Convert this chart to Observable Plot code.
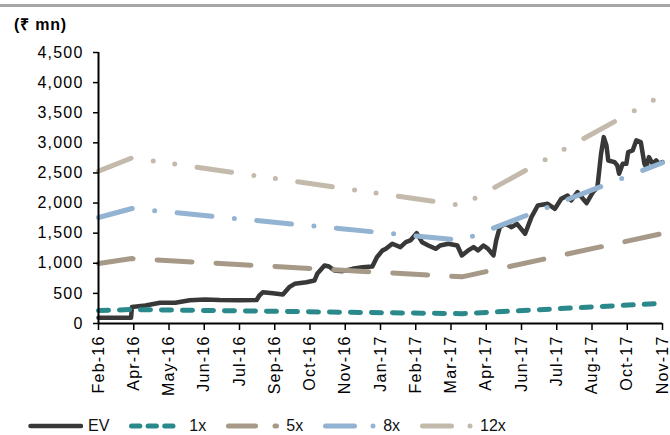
<!DOCTYPE html>
<html>
<head>
<meta charset="utf-8">
<script src="https://cdn.jsdelivr.net/npm/d3@7"></script>
<script src="https://cdn.jsdelivr.net/npm/@observablehq/plot@0.6"></script>
<style>
  body { margin: 0; background: #fff; font-family: "Liberation Sans", Arial, sans-serif; }
  #wrap { position: relative; width: 670px; height: 435px; overflow: hidden; background: #fff; }
  #rule { position: absolute; left: 0; top: 4px; width: 670px; height: 3px; background: #a6a6a6; }
  #unit { position: absolute; left: 14px; top: 16px; font-weight: bold; font-size: 16px; letter-spacing: 0.8px; color: #000; line-height: 18px; z-index: 2; }
  #chart { position: absolute; left: 0; top: 0; }
  #legend { position: absolute; left: 28px; top: 417px; height: 18px; display: flex; align-items: center; font-size: 16px; color: #111; }
  .item { display: flex; align-items: center; margin-right: 20px; }
  .item svg { margin-right: 5px; }
</style>
</head>
<body>
<div id="wrap">
  <div id="rule"></div>
  <div id="unit">(₹ mn)</div>
  <div id="chart"></div>
  <div id="legend"></div>
</div>
<script>
// ---- Data ----
const evDates = [
  "2016-02-24","2016-03-31","2016-04-01","2016-04-16","2016-05-02","2016-05-19","2016-06-04","2016-06-21",
  "2016-07-07","2016-07-29","2016-08-17","2016-08-20","2016-08-24","2016-09-04","2016-09-15","2016-09-22",
  "2016-09-28","2016-10-11","2016-10-20","2016-10-23","2016-10-31","2016-11-05","2016-11-11","2016-11-20",
  "2016-12-01","2016-12-12","2016-12-23","2016-12-28","2017-01-03","2017-01-07","2017-01-14","2017-01-23",
  "2017-01-29","2017-02-03","2017-02-10","2017-02-16","2017-02-23","2017-03-03","2017-03-08","2017-03-17",
  "2017-03-27","2017-04-01","2017-04-08","2017-04-14","2017-04-19","2017-04-25","2017-04-30","2017-05-06",
  "2017-05-09","2017-05-13","2017-05-19","2017-05-26","2017-06-01","2017-06-10","2017-06-17","2017-06-24",
  "2017-07-05","2017-07-13","2017-07-20","2017-07-27","2017-07-31","2017-08-07","2017-08-13","2017-08-17",
  "2017-08-24","2017-08-29","2017-09-02","2017-09-05","2017-09-08","2017-09-10","2017-09-17","2017-09-20",
  "2017-09-22","2017-09-26","2017-09-30","2017-10-02","2017-10-07","2017-10-11","2017-10-16","2017-10-20",
  "2017-10-22","2017-10-25","2017-10-29","2017-11-02","2017-11-05","2017-11-09"
];
const evValues = [
  95, 95, 275, 300, 345, 345, 385, 400,
  390, 385, 390, 465, 520, 503, 482, 603,
  659, 686, 714, 825, 963, 946, 880, 869,
  908, 935, 946, 1101, 1210, 1240, 1324, 1268,
  1350, 1379, 1500, 1350, 1296, 1240, 1296, 1324,
  1296, 1130, 1213, 1268, 1213, 1296, 1240, 1130,
  1379, 1600, 1655, 1600, 1655, 1490, 1766, 1960,
  1988, 1905, 2071, 2126, 2043, 2181, 2071, 1998,
  2181, 2264, 2817, 3095, 2957, 2707, 2680, 2624,
  2486, 2652, 2652, 2846, 2873, 3040, 3012, 2652,
  2596, 2762, 2652, 2707, 2652, 2680
];
const bandDates = ["2016-02-24", "2016-04-01", "2017-04-01", "2017-11-09"];
const band1x  = [215, 232, 163, 335];
const band5x  = [995, 1078, 775, 1495];
const band8x  = [1760, 1910, 1380, 2670];
const band12x = [2530, 2750, 1960, 3790];

const seriesNames = ["EV", "1x", "5x", "8x", "12x"];
const yTicks = [0, 500, 1000, 1500, 2000, 2500, 3000, 3500, 4000, 4500];
const xTickDates = [
  "2016-02-24","2016-04-03","2016-05-12","2016-06-20","2016-07-29","2016-09-06","2016-10-15","2016-11-23",
  "2017-01-01","2017-02-09","2017-03-20","2017-04-28","2017-06-06","2017-07-15","2017-08-23","2017-10-01","2017-11-09"
];
const xTickLabels = [
  "Feb-16","Apr-16","May-16","Jun-16","Jul-16","Sep-16","Oct-16","Nov-16",
  "Jan-17","Feb-17","Mar-17","Apr-17","Jun-17","Jul-17","Aug-17","Oct-17","Nov-17"
];

// ---- Styles ----
const colors = { "EV": "#383838", "1x": "#2b898b", "5x": "#a79987", "8x": "#93b3d2", "12x": "#c4baab" };
const dashes = { "EV": null, "1x": "10,11", "5x": "35,24", "8x": "35,22.5,0,22.5", "12x": "35,22.5,0,21.7,0,22.5" };
const widths = { "EV": 4.5, "1x": 5, "5x": 5, "8x": 5, "12x": 5 };
const legendDashes = { "EV": null, "1x": "8.3,8.3", "5x": "27,19.5", "8x": "29,18.5,0,50", "12x": "29,18.5,0,50" };

const parse = d3.utcParse("%Y-%m-%d");
const ev = evDates.map((d, i) => ({ date: parse(d), value: evValues[i] }));
const bandArrays = { "1x": band1x, "5x": band5x, "8x": band8x, "12x": band12x };
const bands = Object.entries(bandArrays).map(([name, vals]) => ({
  name, data: bandDates.map((d, i) => ({ date: parse(d), value: vals[i] }))
}));
const tickDates = xTickDates.map(parse);
const labelMap = new Map(tickDates.map((d, i) => [+d, xTickLabels[i]]));
const x0 = tickDates[0], x1 = tickDates[tickDates.length - 1];

const marks = [
  Plot.line(ev, { x: "date", y: "value", stroke: colors["EV"], strokeWidth: widths["EV"], strokeLinejoin: "round", strokeLinecap: "round" }),
  ...bands.map(b => Plot.line(b.data, {
    x: "date", y: "value", stroke: colors[b.name], strokeWidth: widths[b.name],
    strokeDasharray: dashes[b.name], strokeLinecap: "round", strokeLinejoin: "round"
  })),
  Plot.ruleX([x0], { y1: 0, y2: yTicks[yTicks.length - 1], stroke: "#000", strokeWidth: 2 }),
  Plot.ruleY([0], { stroke: "#000", strokeWidth: 2 }),
  Plot.axisY({ ticks: yTicks, tickFormat: d3.format(","), tickSize: 5, tickPadding: 10, label: null, strokeWidth: 1.5 }),
  Plot.axisX({ ticks: tickDates, tickFormat: d => labelMap.get(+d), tickRotate: -90, tickSize: 7, tickPadding: 5, label: null, strokeWidth: 1.5 })
];

const chart = Plot.plot({
  width: 670, height: 400,
  marginTop: 52, marginBottom: 77, marginLeft: 98, marginRight: 8,
  x: { type: "utc", domain: [x0, x1] },
  y: { domain: [0, yTicks[yTicks.length - 1]] },
  style: { fontFamily: "'Liberation Sans', Arial, sans-serif", fontSize: "16px", color: "#000", background: "transparent", letterSpacing: "1.2px", overflow: "visible" },
  marks
});
document.getElementById("chart").appendChild(chart);

// ---- Legend ----
const legend = document.getElementById("legend");
const ns = "http://www.w3.org/2000/svg";
seriesNames.forEach(name => {
  const item = document.createElement("div");
  item.className = "item";
  const svg = document.createElementNS(ns, "svg");
  svg.setAttribute("width", 55); svg.setAttribute("height", 12);
  const line = document.createElementNS(ns, "line");
  line.setAttribute("x1", 2.5); line.setAttribute("x2", name === "EV" ? 53 : 50.5);
  line.setAttribute("y1", 6); line.setAttribute("y2", 6);
  line.setAttribute("stroke", colors[name]);
  line.setAttribute("stroke-width", widths[name]);
  line.setAttribute("stroke-linecap", "round");
  if (legendDashes[name]) line.setAttribute("stroke-dasharray", legendDashes[name]);
  svg.appendChild(line);
  const label = document.createElement("span");
  label.textContent = name;
  item.appendChild(svg); item.appendChild(label);
  legend.appendChild(item);
});
</script>
</body>
</html>
